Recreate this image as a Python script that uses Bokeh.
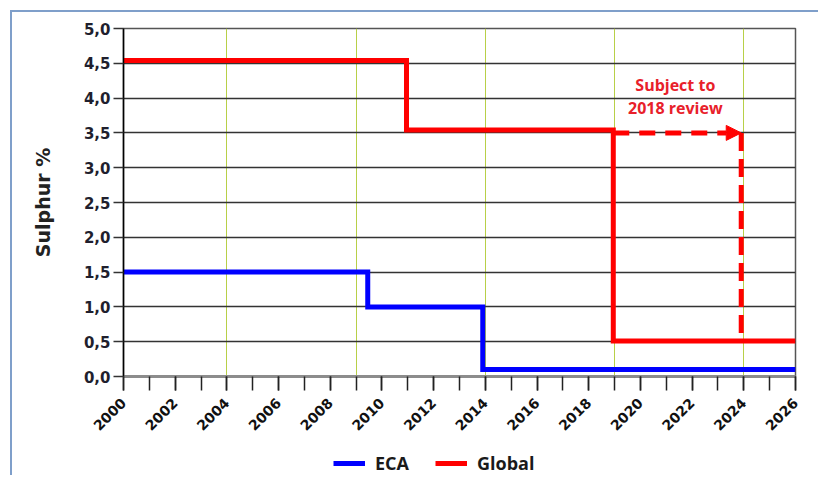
import math
from bokeh.plotting import figure
from bokeh.layouts import column
from bokeh.models import (FixedTicker, Legend, LegendItem, Arrow, NormalHead,
                          Range1d, CustomJSTickFormatter, ColumnDataSource)
from bokeh.core.properties import value
from bokeh.embed import file_html
from bokeh.resources import INLINE

# ---- data ----
years_all = list(range(2000, 2027))
years_labeled = list(range(2000, 2027, 2))
green_years = [2004, 2009, 2014, 2019, 2024]
y_ticks = [0.0, 0.5, 1.0, 1.5, 2.0, 2.5, 3.0, 3.5, 4.0, 4.5, 5.0]

eca_x = [2000, 2009.45, 2013.9, 2026]
eca_y = [1.5, 1.0, 0.1, 0.1]

global_x = [2000, 2010.95, 2018.95, 2026]
global_y = [4.54, 3.54, 0.51, 0.51]

review_x = [2018.95, 2023.9]
review_level = 3.5
review_floor = 0.5

note_lines = ["Subject to", "2018 review"]
note_x = [2021.35, 2021.35]
note_y = [4.19, 3.86]

series_names = ["ECA", "Global"]

RED = "#ff0000"
BLUE = "#0000ff"

p = figure(width=806, height=433, x_range=Range1d(2000, 2026), y_range=Range1d(0, 5),
           output_backend="svg", toolbar_location=None,
           min_border_left=111, min_border_right=23, min_border_top=16, min_border_bottom=69,
           background_fill_color="white", border_fill_color="white")

p.outline_line_color = "#555555"
p.outline_line_width = 1.5

# grids
p.xgrid.ticker = FixedTicker(ticks=green_years)
p.xgrid.grid_line_color = "#b8d048"
p.xgrid.grid_line_width = 1
p.ygrid.ticker = FixedTicker(ticks=y_ticks)
p.ygrid.grid_line_color = "#333333"
p.ygrid.grid_line_width = 1.5

# y axis
ya = p.yaxis[0]
ya.ticker = FixedTicker(ticks=y_ticks)
ya.formatter = CustomJSTickFormatter(code="return tick.toFixed(1).replace('.', ',');")
ya.axis_line_color = "black"
ya.axis_line_width = 1.5
ya.major_tick_in = 0
ya.major_tick_out = 10
ya.major_tick_line_color = "#333333"
ya.major_tick_line_width = 1.5
ya.minor_tick_line_color = None
ya.major_label_text_font = "DejaVu Sans"
ya.major_label_text_font_style = "bold"
ya.major_label_text_font_size = "15px"
ya.major_label_text_color = "#1f1f2e"
ya.major_label_standoff = 3
ya.axis_label = "Sulphur %"
ya.axis_label_text_font = "DejaVu Sans"
ya.axis_label_text_font_style = "bold"
ya.axis_label_text_font_size = "19px"
ya.axis_label_text_color = "#222222"
ya.axis_label_standoff = 27

# x axis
xa = p.xaxis[0]
xa.ticker = FixedTicker(ticks=years_labeled, minor_ticks=years_all)
xa.axis_line_color = "#8c8c8c"
xa.axis_line_width = 3
xa.major_tick_in = 0
xa.major_tick_out = 14
xa.minor_tick_in = 0
xa.minor_tick_out = 14
xa.major_tick_line_color = "#222222"
xa.minor_tick_line_color = "#222222"
xa.major_tick_line_width = 1.5
xa.minor_tick_line_width = 1.5
xa.major_label_orientation = math.pi / 4
xa.major_label_text_font = "DejaVu Sans"
xa.major_label_text_font_style = "bold"
xa.major_label_text_font_size = "14px"
xa.major_label_text_color = "#111111"
xa.major_label_standoff = 10

# series
p.step(eca_x, eca_y, mode="after", line_color=BLUE, line_width=5, line_join="miter")
p.step(global_x, global_y, mode="after", line_color=RED, line_width=5, line_join="miter")

# review arrow (dashed)
arrow = Arrow(x_start=review_x[0], y_start=review_level, x_end=review_x[1], y_end=review_level,
              line_color=RED, line_width=5, line_dash="16 10",
              end=NormalHead(size=15, fill_color=RED, line_color=RED, line_width=1))
p.add_layout(arrow)
p.segment(x0=[review_x[1]], y0=[review_level], x1=[review_x[1]], y1=[review_floor],
          line_color=RED, line_width=5, line_dash="18 8")

# note
src = ColumnDataSource(dict(x=note_x, y=note_y, t=note_lines))
p.text(x="x", y="y", text="t", source=src, text_align="center", text_baseline="middle",
       text_color="#e8202a", text_font=value("Open Sans"), text_font_style="bold",
       text_font_size="16px")

# legend strip (separate figure so the legend is not clipped by the main frame);
# its keys use the same series, drawn outside that strip's visible y range
lp = figure(width=806, height=30, x_range=Range1d(2000, 2026), y_range=Range1d(10, 11),
            x_axis_type=None, y_axis_type=None, output_backend="svg", toolbar_location=None,
            min_border=0, outline_line_color=None,
            background_fill_color="white", border_fill_color="white")
lp.grid.visible = False
eca_key = lp.step(eca_x, eca_y, mode="after", line_color=BLUE, line_width=5)
glob_key = lp.step(global_x, global_y, mode="after", line_color=RED, line_width=5)

legend = Legend(items=[LegendItem(label=series_names[0], renderers=[eca_key]),
                       LegendItem(label=series_names[1], renderers=[glob_key])],
                orientation="horizontal", location=(210, 0),
                background_fill_alpha=0, border_line_color=None,
                glyph_width=32, glyph_height=20, label_standoff=10, spacing=26,
                padding=0, margin=0,
                label_text_font="Open Sans", label_text_font_style="bold",
                label_text_font_size="18px", label_text_color="#1a1a1a")
lp.add_layout(legend)

layout = column(p, lp, spacing=0,
                styles={"border-left": "2px solid #7f9fca", "border-top": "2px solid #7f9fca",
                        "margin-left": "10px", "margin-top": "10px"})

open("out.html", "w").write(file_html(layout, INLINE))
